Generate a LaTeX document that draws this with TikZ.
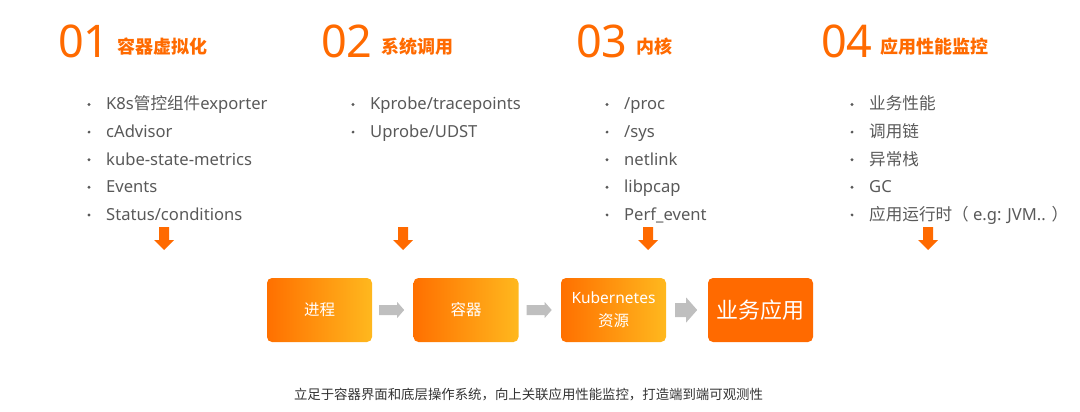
\documentclass[tikz,border=0pt]{standalone}
\usepackage{fontspec}
\setmainfont{Noto Sans}
\newfontfamily\cjk{Noto Sans CJK SC}
\usetikzlibrary{calc}
\definecolor{brand}{HTML}{FF6A00}
\definecolor{boxL}{HTML}{FF7000}
\definecolor{boxR}{HTML}{FFB81E}
\definecolor{listgray}{HTML}{595959}
\definecolor{arrowgray}{HTML}{BFBFBF}
\definecolor{captext}{HTML}{333333}
\begin{document}
\begin{tikzpicture}[x=1pt,y=-1pt,
  num/.style={anchor=base west, inner sep=0, text=brand, font=\fontsize{45}{45}\selectfont},
  ttl/.style={anchor=base west, inner sep=0, text=brand, font=\cjk\bfseries\fontsize{18}{18}\selectfont},
  item/.style={anchor=base west, inner sep=0, text=listgray, font=\fontsize{16.6}{16.6}\selectfont},
  dot/.style={fill=listgray, draw=none},
  downarrow/.style={fill=brand, draw=none},
  flowarrow/.style={fill=arrowgray, draw=none},
  procbox/.style={rounded corners=5pt, minimum width=105pt, minimum height=64pt, left color=boxL, right color=boxR, draw=none, text=white, inner sep=0, align=center, font=\fontsize{15.5}{23}\selectfont},
  appbox/.style={rounded corners=5pt, minimum width=105pt, minimum height=64pt, fill=brand, draw=none, text=white, inner sep=0, align=center, font=\cjk\fontsize{22}{22}\selectfont},
  caption/.style={inner sep=0, text=captext, font=\cjk\fontsize{13.4}{13.4}\selectfont}
]
\useasboundingbox (0,0) rectangle (1080,412);

% headings
\node[num] (n1) at (58,58) {01};
\node[ttl] (t1) at (117,54) {容器虚拟化};
\node[num] (n2) at (321,58) {02};
\node[ttl] (t2) at (381,54) {系统调用};
\node[num] (n3) at (576,58) {03};
\node[ttl] (t3) at (636,54) {内核};
\node[num] (n4) at (821,58) {04};
\node[ttl] (t4) at (880,54) {应用性能监控};

% lists
\foreach \t [count=\i from 0] in {{K8s{\cjk 管控组件}exporter}, cAdvisor, kube-state-metrics, Events, Status/conditions}{
  \fill[dot] (89,{104.5+27.6*\i}) circle (1.6);
  \node[item] (a\i) at (106,{110+27.6*\i}) {\t};
}
\foreach \t [count=\i from 0] in {Kprobe/tracepoints, Uprobe/UDST}{
  \fill[dot] (353,{104.5+27.6*\i}) circle (1.6);
  \node[item] (b\i) at (370,{110+27.6*\i}) {\t};
}
\foreach \t [count=\i from 0] in {/proc, /sys, netlink, libpcap, Perf\_event}{
  \fill[dot] (607,{104.5+27.6*\i}) circle (1.6);
  \node[item] (c\i) at (624,{110+27.6*\i}) {\t};
}
\foreach \t [count=\i from 0] in {{\cjk 业务性能}, {\cjk 调用链}, {\cjk 异常栈}, GC, {{\cjk 应用运行时（} e.g: JVM.. {\cjk ）}}}{
  \fill[dot] (852,{104.5+27.6*\i}) circle (1.6);
  \node[item] (d\i) at (869,{110+27.6*\i}) {\t};
}

% orange down arrows
\foreach \cx in {164,403,648,928}{
  \fill[downarrow] (\cx-5,227) -- (\cx+5,227) -- (\cx+5,240) -- (\cx+10,240) -- (\cx,250) -- (\cx-10,240) -- (\cx-5,240) -- cycle;
}

% boxes
\node[procbox] (b1) at (319.5,310) {{\cjk 进程}};
\node[procbox] (b2) at (466,310) {{\cjk 容器}};
\node[procbox] (b3) at (613.5,310) {Kubernetes\\{\cjk 资源}};
\node[appbox] (b4) at (760.5,310) {业务应用};

% grey flow arrows
\fill[flowarrow] ($(b1.east)+(7,-5)$) -- ($(b1.east)+(25,-5)$) -- ($(b1.east)+(25,-8)$) -- ($(b1.east)+(32,0)$) -- ($(b1.east)+(25,8)$) -- ($(b1.east)+(25,5)$) -- ($(b1.east)+(7,5)$) -- cycle;
\fill[flowarrow] ($(b2.east)+(8,-5)$) -- ($(b2.east)+(26,-5)$) -- ($(b2.east)+(26,-8)$) -- ($(b2.east)+(33,0)$) -- ($(b2.east)+(26,8)$) -- ($(b2.east)+(26,5)$) -- ($(b2.east)+(8,5)$) -- cycle;
\fill[flowarrow] ($(b3.east)+(9,-7)$) -- ($(b3.east)+(20,-7)$) -- ($(b3.east)+(20,-12.5)$) -- ($(b3.east)+(31,0)$) -- ($(b3.east)+(20,12.5)$) -- ($(b3.east)+(20,7)$) -- ($(b3.east)+(9,7)$) -- cycle;

% caption
\node[caption] (cap) at (528.5,395) {立足于容器界面和底层操作系统，向上关联应用性能监控，打造端到端可观测性};
\end{tikzpicture}
\end{document}
